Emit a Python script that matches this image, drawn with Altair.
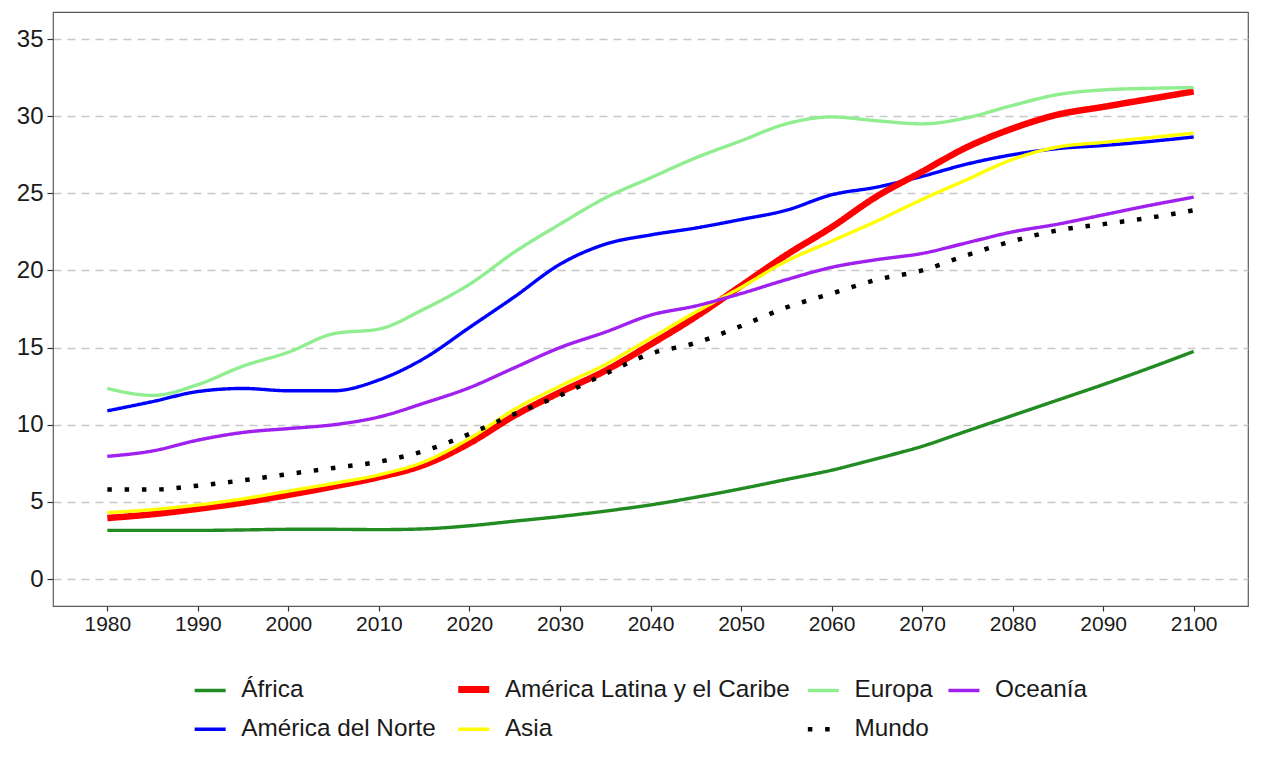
import altair as alt
import pandas as pd

years = list(range(1980, 2101, 5))

africa = [3.15, 3.15, 3.15, 3.18, 3.22, 3.22, 3.20, 3.25, 3.45, 3.75, 4.05, 4.40, 4.80,
          5.30, 5.85, 6.45, 7.05, 7.80, 8.60, 9.60, 10.60, 11.60, 12.60, 13.65, 14.75]
norte = [10.9, 11.5, 12.15, 12.35, 12.2, 12.2, 12.9, 14.3, 16.3, 18.3, 20.4, 21.7, 22.3,
         22.75, 23.3, 23.9, 24.9, 25.4, 26.1, 26.9, 27.5, 27.9, 28.1, 28.35, 28.65]
latina = [3.95, 4.2, 4.55, 4.95, 5.45, 6.0, 6.6, 7.4, 8.8, 10.6, 12.1, 13.5, 15.2,
          17.0, 19.0, 21.0, 22.8, 24.8, 26.4, 28.0, 29.2, 30.1, 30.6, 31.1, 31.6]
asia = [4.3, 4.5, 4.8, 5.2, 5.7, 6.2, 6.75, 7.6, 9.1, 11.0, 12.5, 13.9, 15.6,
        17.3, 18.9, 20.6, 21.9, 23.2, 24.6, 25.9, 27.2, 28.0, 28.3, 28.6, 28.9]
europa = [12.35, 11.9, 12.6, 13.8, 14.7, 15.9, 16.2, 17.5, 19.1, 21.2, 23.0, 24.7, 26.0,
          27.3, 28.4, 29.5, 29.95, 29.7, 29.5, 29.9, 30.7, 31.4, 31.7, 31.8, 31.85]
mundo = [5.8, 5.8, 6.05, 6.4, 6.8, 7.2, 7.6, 8.3, 9.4, 10.7, 11.9, 13.3, 14.6,
         15.3, 16.4, 17.6, 18.5, 19.4, 20.0, 21.0, 21.9, 22.6, 23.0, 23.4, 23.9]
oceania = [7.95, 8.3, 9.0, 9.5, 9.75, 10.0, 10.5, 11.4, 12.4, 13.7, 15.0, 16.0, 17.1,
           17.7, 18.5, 19.4, 20.2, 20.7, 21.1, 21.8, 22.5, 23.0, 23.6, 24.2, 24.75]

regions = ["África", "América del Norte", "América Latina y el Caribe", "Asia",
           "Europa", "Mundo", "Oceanía"]
series = [africa, norte, latina, asia, europa, mundo, oceania]

colors = {"África": "#228B22", "América del Norte": "#0000FF",
          "América Latina y el Caribe": "#FF0000", "Asia": "#FFFF00",
          "Europa": "#90EE90", "Mundo": "#000000", "Oceanía": "#A020F0"}
dashes = {r: [1, 0] for r in regions}
dashes["Mundo"] = [4.5, 12.8]
widths = {r: 3.4 for r in regions}
widths["América Latina y el Caribe"] = 6.5
widths["Mundo"] = 4.5

rows = []
for order, (name, vals) in enumerate(zip(regions, series)):
    for yr, v in zip(years, vals):
        rows.append({"region": name, "year": yr, "value": v,
                     "w": widths[name], "o": order})
df = pd.DataFrame(rows)

lbl = "América Latina y el Caribe"

chart = alt.Chart(df).mark_line(interpolate="monotone", strokeCap="butt").encode(
    x=alt.X("year:Q", scale=alt.Scale(domain=[1974, 2106], nice=False, zero=False),
            axis=alt.Axis(values=list(range(1980, 2101, 10)), format="d", title=None,
                          grid=False, domain=False, tickSize=5, tickColor="#333333",
                          tickWidth=1.2, labelFontSize=21, labelColor="#1a1a1a",
                          labelFont="Liberation Sans", labelPadding=2)),
    y=alt.Y("value:Q", scale=alt.Scale(domain=[-1.75, 36.75], nice=False, zero=False),
            axis=alt.Axis(values=list(range(0, 36, 5)), title=None, grid=True,
                          gridDash=[8, 6], gridColor="#c8c8c8", gridWidth=1.3,
                          domain=False, tickSize=6, tickColor="#333333", tickWidth=1.2,
                          labelFontSize=24, labelColor="#1a1a1a",
                          labelFont="Liberation Sans", labelPadding=4)),
    color=alt.Color("region:N",
                    scale=alt.Scale(domain=regions,
                                    range=[colors[r] for r in regions]),
                    legend=alt.Legend(title=None, orient="none", legendX=145, legendY=665,
                                      columns=4, symbolType="stroke", symbolSize=961,
                                      symbolStrokeWidth={"expr": "datum.value == '" + lbl + "' ? 7 : (datum.value == 'Mundo' ? 4.5 : 3.5)"},
                                      labelFontSize=24.3, labelFont="Liberation Sans",
                                      labelColor="#1a1a1a", labelOffset=19, labelLimit=500,
                                      columnPadding=7.6, rowPadding=13)),
    strokeDash=alt.StrokeDash("region:N",
                              scale=alt.Scale(domain=regions,
                                              range=[dashes[r] for r in regions])),
    strokeWidth=alt.StrokeWidth("w:Q", scale=None, legend=None),
    order=alt.Order("o:Q"),
).properties(
    width=1195, height=594,
    autosize=alt.AutoSizeParams(type="none"),
    padding={"left": 45, "top": 4, "right": 6, "bottom": 150},
).configure_view(
    stroke="#5a5a5a", strokeWidth=1.2
)

chart.save("out.html", embed_options={"renderer": "svg", "actions": False})
